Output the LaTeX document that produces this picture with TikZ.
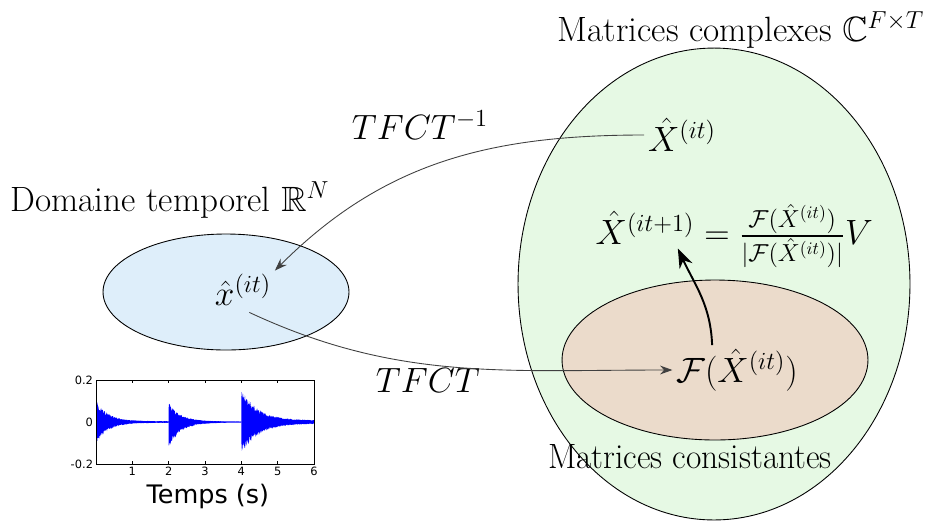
\RequirePackage{fix-cm}
\documentclass[tikz,border=0pt]{standalone}
\usepackage{fontspec}
\usepackage{amsmath,amssymb}
\usepackage{tikz}
\usetikzlibrary{shapes.geometric,arrows.meta,positioning}
\usepackage{xcolor}
\newfontfamily\plotfont{DejaVu Sans}
\definecolor{bluefill}{RGB}{222,238,250}
\definecolor{greenfill}{RGB}{230,249,228}
\definecolor{pinkfill}{RGB}{235,219,203}
\definecolor{wave}{RGB}{0,0,255}
\tikzset{
  setell/.style={ellipse,draw=black,line width=0.5pt,inner sep=0pt},
  bigtxt/.style={font=\fontsize{20}{24}\selectfont,inner sep=2pt},
  fleche/.style={->,>={Stealth[length=7pt,width=5pt]},draw=black!75,line width=0.5pt},
  grossefleche/.style={->,>={Stealth[length=11pt,width=8pt]},line width=1.1pt},
  ticklab/.style={font=\plotfont\fontsize{6.5}{8}\selectfont,inner sep=1.5pt},
}

\begin{document}
\begin{tikzpicture}[x=0.02cm,y=-0.02cm]
\useasboundingbox (0,0) rectangle (925,525);

% ensembles
\node[setell,fill=greenfill,minimum width=7.84cm,minimum height=9.44cm] (cplx) at (714,284) {};
\node[setell,fill=pinkfill,minimum width=6.12cm,minimum height=3.2cm] (cons) at (715,360) {};
\node[setell,fill=bluefill,minimum width=4.92cm,minimum height=2.32cm] (temp) at (226,292) {};

\node[bigtxt] (cplxlab) at (741,30) {Matrices complexes $\mathbb{C}^{F\times T}$};
\node[bigtxt] (templab) at (170,200) {Domaine temporel $\mathbb{R}^N$};
\node[bigtxt,xscale=0.95] (conslab) at (690,457) {Matrices consistantes};

% iterates
\node[bigtxt] (Xit) at (682,135) {$\hat{X}^{(it)}$};
\node[bigtxt] (Xnext) at (645,228) {$\hat{X}^{(it+1)}$};
\node[bigtxt,anchor=base west,inner sep=0pt] (Xrhs) at (Xnext.base east) {$\,=\frac{\mathcal{F}(\hat{X}^{(it)})}{|\mathcal{F}(\hat{X}^{(it)})|}V$};
\node[bigtxt] (xit) at (243,290) {$\hat{x}^{(it)}$};
\node[bigtxt] (FX) at (737,370) {$\mathcal{F}(\hat{X}^{(it)})$};
\node[bigtxt] (tfctinv) at (420,125) {$TFCT^{-1}$};
\node[bigtxt] (tfct) at (428,380) {$TFCT$};

\draw[fleche] (Xit.west) to[out=180,in=45] (xit.north east);
\draw[fleche,shorten <=4pt] (xit.south) to[out=-25,in=180] (FX.west);
\draw[grossefleche] (FX.135) to[out=92,in=-65] (Xnext.-32);

% signal
\begin{scope}[shift={(96,422)},xscale=36.33,yscale=-210]
\pgfmathsetseed{7}
\foreach \ts/\up/\dn/\dec/\fl in {0/0.1/0.1/3/0.004,2/0.09/0.12/3/0.003,4/0.15/0.15/2.2/0.008}{
  \fill[wave] plot[domain=\ts:\ts+2,samples=180] (\x,{(\up*exp(-\dec*(\x-\ts))+\fl)*(0.65+0.35*rnd)})
    -- plot[domain=\ts+2:\ts,samples=180] (\x,{-(\dn*exp(-\dec*(\x-\ts))+\fl)*(0.65+0.35*rnd)}) -- cycle;
}
\draw[line width=0.4pt] (0,-0.2) rectangle (6,0.2);
\foreach \t in {1,...,5}{
  \draw[line width=0.3pt] (\t,-0.2) -- ++(0,0.012);
  \draw[line width=0.3pt] (\t,0.2) -- ++(0,-0.012);
}
\foreach \t in {1,...,6}
  \node[ticklab,below] (tk\t) at (\t,-0.2) {\t};
\node[ticklab,left] (yhi) at (0,0.2) {0.2};
\node[ticklab,left] (ymid) at (0,0) {0};
\node[ticklab,left] (ylo) at (0,-0.2) {-0.2};
\node[font=\plotfont\fontsize{14.5}{16}\selectfont] (tlab) at (3.08,-0.357) {Temps (s)};
\end{scope}
\end{tikzpicture}
\end{document}
